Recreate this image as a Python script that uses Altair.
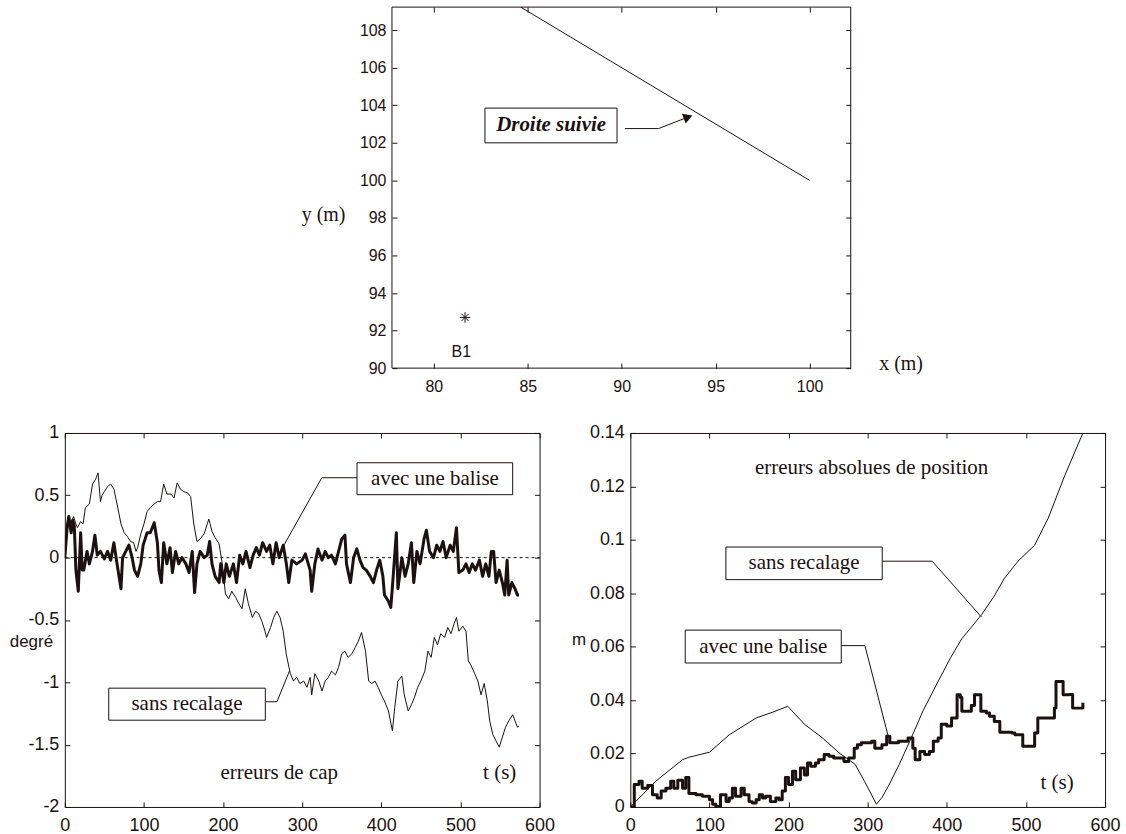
import altair as alt
import pandas as pd

INK = "#1c1010"
SERIF = "Liberation Serif"
SANS = "Liberation Sans"

# ---------------- top panel: followed line and beacon ----------------
track_x = [84.62, 100.0]
track_y = [109.23, 100.0]
beacon_x = [81.66]
beacon_y = [92.7]
beacon_label = ["B1"]
top_xdom = [77.77, 102.19]
top_ydom = [90.0, 109.23]
top_xticks = [80, 85, 90, 95, 100]
top_yticks = [90, 92, 94, 96, 98, 100, 102, 104, 106, 108]

# ---------------- heading error (degrees) ----------------
cap_sans_t = [0, 3, 5, 8, 11, 14, 16, 20, 23, 26, 31, 35, 39, 42, 45, 47, 50, 54, 58, 62,
              66, 71, 75, 79, 83, 87, 90, 92, 96, 100, 104, 108, 113, 117, 121, 125, 129,
              134, 138, 142, 146, 150, 155, 159, 163, 167, 171, 176, 180, 182, 186, 190,
              195, 199, 203, 207, 211, 216, 220, 224, 228, 232, 237, 241, 245, 249, 253,
              255, 260, 264, 268, 272, 276, 280, 285, 289, 293, 297, 302, 306, 310, 312,
              316, 321, 325, 329, 333, 337, 342, 346, 350, 354, 358, 363, 367, 371, 375,
              380, 384, 388, 392, 396, 400, 404, 409, 414, 417, 421, 426, 429, 434, 438,
              442, 446, 450, 455, 459, 463, 467, 471, 475, 480, 484, 488, 492, 495, 498,
              503, 507, 510, 513, 518, 522, 526, 530, 534, 537, 541, 545, 549, 553, 557,
              561, 566, 569, 572, 574]
cap_sans_v = [0.0, 0.2, 0.32, 0.28, 0.33, 0.27, 0.24, 0.29, 0.27, 0.40, 0.43, 0.59, 0.63,
              0.68, 0.45, 0.50, 0.53, 0.57, 0.59, 0.55, 0.43, 0.27, 0.20, 0.17, 0.13, 0.12,
              0.05, 0.08, 0.19, 0.27, 0.37, 0.40, 0.43, 0.45, 0.45, 0.59, 0.51, 0.51, 0.48,
              0.60, 0.55, 0.53, 0.52, 0.49, 0.27, 0.13, 0.15, 0.19, 0.27, 0.31, 0.21, 0.16,
              0.11, -0.05, -0.29, -0.33, -0.27, -0.32, -0.37, -0.41, -0.25, -0.37, -0.48,
              -0.43, -0.45, -0.51, -0.59, -0.64, -0.56, -0.48, -0.43, -0.48, -0.59, -0.78,
              -0.93, -0.99, -0.96, -1.01, -0.99, -1.04, -0.96, -1.10, -0.93, -0.99, -1.07,
              -0.99, -0.96, -0.91, -0.94, -0.88, -0.77, -0.75, -0.80, -0.77, -0.72, -0.67,
              -0.60, -0.75, -0.99, -1.01, -0.99, -1.04, -1.10, -1.15, -1.23, -1.39, -1.20,
              -0.99, -0.95, -1.10, -1.23, -1.18, -1.12, -1.04, -0.99, -0.91, -0.75, -0.80,
              -0.64, -0.70, -0.61, -0.64, -0.56, -0.61, -0.53, -0.48, -0.59, -0.55, -0.59,
              -0.83, -0.86, -0.93, -0.99, -1.10, -1.01, -1.15, -1.31, -1.42, -1.47, -1.52,
              -1.44, -1.36, -1.31, -1.26, -1.31, -1.36, -1.35]

cap_avec_t = [0, 3, 5, 8, 10, 12, 14, 17, 20, 22, 24, 28, 31, 35, 38, 41, 45, 50, 54, 58,
              62, 66, 71, 73, 77, 81, 85, 88, 92, 96, 99, 104, 108, 113, 117, 119, 122, 125,
              129, 133, 136, 140, 144, 148, 153, 157, 161, 164, 167, 171, 176, 180, 183,
              186, 190, 195, 197, 201, 204, 208, 213, 217, 221, 225, 229, 234, 238, 242,
              246, 250, 255, 259, 263, 267, 271, 276, 280, 283, 287, 293, 300, 304, 310,
              312, 316, 320, 325, 329, 333, 337, 342, 346, 350, 354, 356, 361, 365, 369,
              373, 377, 381, 386, 390, 394, 398, 402, 404, 409, 412, 415, 419, 421, 426,
              430, 434, 438, 441, 445, 449, 454, 457, 461, 466, 470, 474, 478, 482, 487,
              491, 495, 498, 503, 507, 511, 515, 519, 524, 528, 532, 536, 539, 542, 545,
              549, 553, 556, 559, 561, 565, 569, 572, 574]
cap_avec_v = [0.0, 0.25, 0.33, 0.20, 0.30, 0.25, -0.10, -0.27, 0.20, -0.10, -0.10, 0.05,
              -0.05, 0.05, 0.18, 0.02, 0.05, -0.01, 0.05, -0.02, 0.12, -0.05, -0.25, 0.0,
              0.05, 0.10, 0.0, -0.10, -0.15, -0.05, 0.10, 0.20, 0.20, 0.28, 0.12, -0.10,
              -0.20, 0.12, -0.05, 0.08, -0.12, 0.05, -0.05, 0.0, -0.05, -0.12, 0.05, -0.28,
              -0.05, 0.05, 0.0, 0.02, 0.13, -0.05, -0.15, -0.20, -0.05, -0.20, -0.05, -0.15,
              -0.05, -0.20, 0.02, -0.05, 0.05, -0.08, 0.02, 0.08, 0.02, 0.12, 0.05, 0.10,
              -0.05, 0.12, 0.0, 0.10, -0.05, -0.20, -0.02, -0.05, -0.02, 0.03, -0.10, -0.27,
              -0.05, 0.07, -0.02, 0.05, 0.0, 0.02, -0.05, 0.05, 0.15, 0.18, -0.05, -0.20,
              0.0, 0.07, -0.02, -0.08, -0.10, -0.15, -0.20, -0.10, -0.02, -0.15, -0.30,
              -0.35, -0.40, -0.15, 0.20, -0.25, 0.0, -0.15, -0.05, 0.12, -0.20, 0.05, -0.05,
              0.15, 0.22, 0.05, 0.0, 0.10, 0.05, 0.13, 0.0, 0.10, 0.05, 0.24, -0.12, -0.10,
              -0.05, -0.12, -0.05, -0.10, -0.02, -0.15, -0.05, -0.15, 0.05, 0.05, -0.20,
              -0.10, -0.20, -0.30, -0.02, -0.30, -0.20, -0.25, -0.30, -0.30]

# ---------------- absolute position error (m) ----------------
pos_sans_t = [0, 32, 66, 74, 100, 125, 159, 180, 199, 220, 243, 265, 284, 296, 305, 311,
              318, 326, 340, 355, 370, 389, 405, 419, 444, 460, 473, 490, 511, 528, 549, 572]
pos_sans_v = [0.0, 0.0096, 0.0177, 0.0186, 0.0205, 0.027, 0.0333, 0.0355, 0.0377, 0.031,
              0.0258, 0.020, 0.016, 0.0096, 0.0045, 0.001, 0.0035, 0.0077, 0.016, 0.0258,
              0.036, 0.047, 0.056, 0.063, 0.072, 0.079, 0.0857, 0.092, 0.098, 0.108, 0.124,
              0.140]

pos_avec_t = [0, 4, 5, 11, 15, 22, 28, 34, 39, 45, 51, 55, 60, 66, 70, 74, 83, 91, 100,
              104, 108, 114, 121, 125, 129, 133, 140, 144, 150, 154, 159, 163, 167, 171,
              177, 184, 188, 192, 196, 200, 205, 209, 215, 220, 224, 228, 234, 238, 245,
              251, 257, 264, 270, 276, 283, 287, 292, 305, 309, 318, 324, 328, 339, 351,
              357, 360, 366, 372, 378, 383, 389, 393, 400, 406, 410, 413, 417, 419, 427,
              431, 435, 439, 443, 450, 454, 460, 467, 482, 486, 494, 496, 509, 511, 515,
              528, 536, 538, 545, 547, 555, 559, 572]
pos_avec_v = [0.0, 0.0, 0.0084, 0.0096, 0.007, 0.008, 0.0046, 0.0034, 0.006, 0.007, 0.0096,
              0.007, 0.010, 0.007, 0.011, 0.005, 0.0046, 0.004, 0.0027, 0.001, 0.0002,
              0.0046, 0.002, 0.0034, 0.007, 0.004, 0.007, 0.0046, 0.002, 0.0015, 0.0027,
              0.0046, 0.0034, 0.004, 0.002, 0.0034, 0.0027, 0.006, 0.011, 0.0084, 0.0134,
              0.0102, 0.0146, 0.012, 0.0165, 0.0152, 0.0165, 0.0177, 0.0196, 0.019, 0.0183,
              0.0183, 0.017, 0.0183, 0.022, 0.0233, 0.024, 0.0246, 0.022, 0.0233, 0.0265,
              0.024, 0.0246, 0.0258, 0.022, 0.0177, 0.0208, 0.0196, 0.0208, 0.0246, 0.0258,
              0.031, 0.0303, 0.0333, 0.0333, 0.042, 0.041, 0.0358, 0.0358, 0.038, 0.042,
              0.042, 0.0358, 0.0352, 0.034, 0.032, 0.028, 0.0277, 0.027, 0.027, 0.0227,
              0.0227, 0.0277, 0.0333, 0.0333, 0.037, 0.047, 0.047, 0.042, 0.0421, 0.037,
              0.039]

t_ticks = [0, 100, 200, 300, 400, 500, 600]
cap_ticks = [-2, -1.5, -1, -0.5, 0, 0.5, 1]
pos_ticks = [0, 0.02, 0.04, 0.06, 0.08, 0.1, 0.12, 0.14]

# the upper plot sits inside a wider view: its x range starts this far in
TOP_SHIFT = 328
TOP_W = 460


def scale(dom, rng=None):
    if rng is None:
        return alt.Scale(domain=dom, nice=False, zero=False)
    return alt.Scale(domain=dom, range=rng, nice=False, zero=False)


def frame(xs, ys, xvals, yvals, size, xpad, ypad, xtitle=None, ytitle=None, shift=0):
    """Labelled axes plus inward ticks on all four sides."""
    d = pd.DataFrame({"x": [xs.domain[0]], "y": [ys.domain[0]]})
    base = alt.Chart(d).mark_point(opacity=0)
    lab = dict(grid=False, labelFont=SANS, labelFontSize=size, labelColor=INK,
               labelFlush=False, labelOverlap=False, labelExpr="'' + datum.value")
    xa = dict(values=xvals, ticks=False, domain=False, labelPadding=xpad, **lab)
    ya = dict(values=yvals, ticks=False, domain=False, labelPadding=ypad, offset=-shift, **lab)
    xa.update(xtitle or {"title": None})
    ya.update(ytitle or {"title": None})
    labelled = base.encode(
        x=alt.X("x:Q", scale=xs, axis=alt.Axis(orient="bottom", **xa)),
        y=alt.Y("y:Q", scale=ys, axis=alt.Axis(orient="left", **ya)),
    )
    tk = dict(labels=False, domain=False, grid=False, tickSize=5, tickColor=INK,
              tickWidth=1, title=None)
    inner_bl = base.encode(
        x=alt.X("x:Q", scale=xs, axis=alt.Axis(orient="bottom", values=xvals, offset=-5, **tk)),
        y=alt.Y("y:Q", scale=ys, axis=alt.Axis(orient="left", values=yvals,
                                                offset=-5 - shift, **tk)),
    )
    inner_tr = base.encode(
        x=alt.X("x:Q", scale=xs, axis=alt.Axis(orient="top", values=xvals, offset=-5, **tk)),
        y=alt.Y("y:Q", scale=ys, axis=alt.Axis(orient="right", values=yvals, offset=-5, **tk)),
    )
    return [labelled, inner_bl, inner_tr]


def series(t, v, xs, ys, width, interp="linear"):
    df = pd.DataFrame({"t": t, "v": v})
    return alt.Chart(df).mark_line(color=INK, strokeWidth=width, strokeJoin="round",
                                   interpolate=interp, clip=True).encode(
        x=alt.X("t:Q", scale=xs, axis=None),
        y=alt.Y("v:Q", scale=ys, axis=None),
    )


def polyline(xv, yv, xs, ys, width=1):
    df = pd.DataFrame({"x": xv, "y": yv, "i": list(range(len(xv)))})
    return alt.Chart(df).mark_line(color=INK, strokeWidth=width).encode(
        x=alt.X("x:Q", scale=xs, axis=None),
        y=alt.Y("y:Q", scale=ys, axis=None),
        order="i:Q",
    )


def box(x0, x1, y0, y1, xs, ys, fill="white"):
    df = pd.DataFrame({"x0": [x0], "x1": [x1], "y0": [y0], "y1": [y1]})
    return alt.Chart(df).mark_rect(fill=fill, stroke=INK, strokeWidth=1).encode(
        x=alt.X("x0:Q", scale=xs, axis=None), x2="x1:Q",
        y=alt.Y("y0:Q", scale=ys, axis=None), y2="y1:Q",
    )


def label(x, y, text, xs, ys, font=SERIF, size=21, weight="normal", style="normal"):
    df = pd.DataFrame({"x": [x], "y": [y], "label": [text]})
    return alt.Chart(df).mark_text(font=font, fontSize=size, fontWeight=weight,
                                   fontStyle=style, color=INK, align="center",
                                   baseline="middle").encode(
        x=alt.X("x:Q", scale=xs, axis=None),
        y=alt.Y("y:Q", scale=ys, axis=None),
        text="label:N",
    )


# ---------------- top panel ----------------
TXs = scale(top_xdom, [TOP_SHIFT, TOP_SHIFT + TOP_W])
TYs = scale(top_ydom)
asterisk = "M-1,0L1,0M0,-1L0,1M-0.7,-0.7L0.7,0.7M-0.7,0.7L0.7,-0.7"
beacon = alt.Chart(pd.DataFrame({"x": beacon_x, "y": beacon_y})).mark_point(
    shape=asterisk, size=110, filled=False, color=INK, strokeWidth=1, opacity=1
).encode(x=alt.X("x:Q", scale=TXs, axis=None), y=alt.Y("y:Q", scale=TYs, axis=None))
arrow_head = alt.Chart(pd.DataFrame({"x": [93.53], "y": [103.37]})).mark_point(
    shape="triangle-right", size=110, filled=True, color=INK, opacity=1, angle=339
).encode(x=alt.X("x:Q", scale=TXs, axis=None), y=alt.Y("y:Q", scale=TYs, axis=None))

top = alt.layer(
    box(top_xdom[0], top_xdom[1], top_ydom[0], top_ydom[1], TXs, TYs, fill="transparent"),
    series(track_x, track_y, TXs, TYs, 1),
    beacon,
    label(81.46, 90.85, beacon_label[0], TXs, TYs, font=SANS, size=16),
    box(82.72, 89.75, 102.0, 103.85, TXs, TYs),
    label(86.24, 102.93, "Droite suivie", TXs, TYs, size=21, weight="bold", style="italic"),
    polyline([90.17, 91.96, 93.5], [102.76, 102.76, 103.36], TXs, TYs),
    arrow_head,
    *frame(TXs, TYs, top_xticks, top_yticks, 16, 10, 6, shift=TOP_SHIFT,
           xtitle=dict(title="x (m)", titleFont=SERIF, titleFontSize=20, titleFontWeight="normal",
                       titleColor=INK, titleAngle=0, titleX=TOP_SHIFT + 510, titleY=-5,
                       titleAlign="center", titleBaseline="middle"),
           ytitle=dict(title="y (m)", titleFont=SERIF, titleFontSize=20, titleFontWeight="normal",
                       titleColor=INK, titleAngle=0, titleX=-69, titleY=208,
                       titleAlign="center", titleBaseline="middle")),
).resolve_axis(x="independent", y="independent").properties(
    width=TOP_SHIFT + TOP_W, height=362, view=alt.ViewBackground(strokeOpacity=0)
)

# ---------------- bottom-left panel: heading error ----------------
LXs, LYs = scale([0, 600]), scale([-2, 1])
zero_line = alt.Chart(pd.DataFrame({"x": [0], "x2": [600], "y": [0]})).mark_rule(
    color=INK, strokeWidth=1, strokeDash=[3, 3]
).encode(x=alt.X("x:Q", scale=LXs, axis=None), x2="x2:Q",
         y=alt.Y("y:Q", scale=LYs, axis=None))

left = alt.layer(
    zero_line,
    series(cap_sans_t, cap_sans_v, LXs, LYs, 1),
    series(cap_avec_t, cap_avec_v, LXs, LYs, 3),
    polyline([276.4, 324.8, 369.3], [0.094, 0.641, 0.641], LXs, LYs),
    box(369.3, 566, 0.505, 0.761, LXs, LYs),
    label(467.7, 0.633, "avec une balise", LXs, LYs),
    polyline([254.3, 268.1, 284.0], [-1.156, -1.156, -0.908], LXs, LYs),
    box(55.5, 253.4, -1.304, -1.047, LXs, LYs),
    label(154.4, -1.175, "sans recalage", LXs, LYs),
    label(271, -1.73, "erreurs de cap", LXs, LYs),
    label(549.6, -1.73, "t (s)", LXs, LYs),
    *frame(LXs, LYs, t_ticks, cap_ticks, 18, 10, 6,
           ytitle=dict(title="degré", titleFont=SANS, titleFontSize=17, titleFontWeight="normal",
                       titleColor=INK, titleAngle=0, titleX=-34, titleY=209,
                       titleAlign="center", titleBaseline="middle")),
).resolve_axis(x="independent", y="independent").properties(width=476, height=375)

# ---------------- bottom-right panel: position error ----------------
RXs, RYs = scale([0, 600]), scale([0, 0.14])
right = alt.layer(
    series(pos_sans_t, pos_sans_v, RXs, RYs, 1),
    series(pos_avec_t, pos_avec_v, RXs, RYs, 3, interp="step-after"),
    label(305, 0.1269, "erreurs absolues de position", RXs, RYs),
    polyline([318.4, 381.5, 443.8], [0.0920, 0.0920, 0.0711], RXs, RYs),
    box(120.8, 318.4, 0.0851, 0.0973, RXs, RYs),
    label(219.6, 0.0912, "sans recalage", RXs, RYs),
    polyline([266.6, 296.5, 325.9], [0.0604, 0.0604, 0.0265], RXs, RYs),
    box(69.4, 266.6, 0.0539, 0.0662, RXs, RYs),
    label(168, 0.060, "avec une balise", RXs, RYs),
    label(539.4, 0.009, "t (s)", RXs, RYs),
    *frame(RXs, RYs, t_ticks, pos_ticks, 18, 10, 6,
           ytitle=dict(title="m", titleFont=SANS, titleFontSize=17, titleFontWeight="normal",
                       titleColor=INK, titleAngle=0, titleX=-52, titleY=207,
                       titleAlign="center", titleBaseline="middle")),
).resolve_axis(x="independent", y="independent").properties(width=476, height=375)

bottom_row = alt.hconcat(left, right, spacing=91, bounds="flush")

chart = alt.vconcat(top, bottom_row, spacing=65, bounds="flush").configure_view(
    stroke=INK, strokeWidth=1
).properties(
    padding={"left": 8, "top": 5, "right": 5, "bottom": 2},
    background="white",
)

chart.save("out.html", embed_options={"renderer": "svg", "actions": False})
